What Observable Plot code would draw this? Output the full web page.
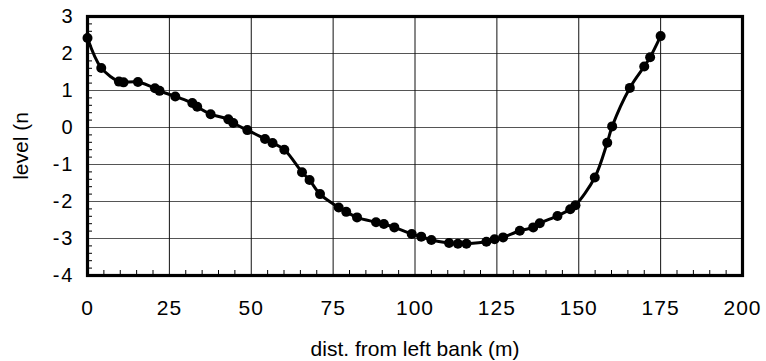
<!DOCTYPE html>
<html>
<head>
<meta charset="utf-8">
<script src="https://cdn.jsdelivr.net/npm/d3@7"></script>
<script src="https://cdn.jsdelivr.net/npm/@observablehq/plot@0.6"></script>
<style>
  html, body { margin: 0; padding: 0; background: #fff; }
  svg { display: block; }
</style>
</head>
<body>
<div id="chart"></div>
<script>
const dist = [0, 4.2, 9.6, 11, 15.4, 20.6, 22, 26.8, 32, 33.5, 37.6, 43, 44.5, 48.8, 54.2, 56.5, 60.1, 65.5, 67.8, 71.0, 76.7, 79.0, 82.3, 88.1, 90.5, 93.7, 99.0, 101.9, 105, 110.4, 113.1, 115.7, 121.8, 124.3, 126.9, 132, 136.1, 138.1, 143.5, 147.4, 149, 154.9, 158.7, 160.2, 165.6, 170, 171.8, 175];
const level = [2.42, 1.61, 1.24, 1.22, 1.23, 1.06, 0.99, 0.84, 0.66, 0.56, 0.36, 0.22, 0.12, -0.07, -0.31, -0.42, -0.60, -1.21, -1.42, -1.80, -2.16, -2.28, -2.43, -2.56, -2.61, -2.70, -2.88, -2.95, -3.04, -3.12, -3.14, -3.14, -3.09, -3.02, -2.97, -2.79, -2.70, -2.59, -2.39, -2.21, -2.10, -1.35, -0.41, 0.03, 1.07, 1.65, 1.90, 2.47];
const xTicks = [0, 25, 50, 75, 100, 125, 150, 175, 200];
const yTicks = [-4, -3, -2, -1, 0, 1, 2, 3];
const xMinor = d3.range(0, 201, 5).filter(v => v % 25 !== 0);
const yMinor = d3.range(-40, 31, 2).map(v => v / 10).filter(v => !Number.isInteger(v));
const xLabel = "dist. from left bank (m)";
const yLabel = "level (n";

const data = dist.map((d, i) => ({dist: d, level: level[i]}));

const W = 766, H = 361;
const mL = 87, mR = 24, mT = 16, mB = 86;
const fw = W - mL - mR, fh = H - mT - mB;

const chart = Plot.plot({
  width: W,
  height: H,
  marginLeft: mL,
  marginRight: mR,
  marginTop: mT,
  marginBottom: mB,
  style: {fontFamily: "'Liberation Sans', Arial, sans-serif", background: "#fff", color: "#000"},
  x: {domain: [0, 200]},
  y: {domain: [-4, 3]},
  marks: [
    Plot.ruleY(yTicks.filter(v => v > -4 && v < 3), {y: d => d, stroke: "#555", strokeWidth: 1.1}),
    Plot.ruleX(xTicks.filter(v => v > 0 && v < 200), {x: d => d, stroke: "#111", strokeWidth: 1}),
    Plot.ruleX(xMinor, {x: d => d, insetTop: fh - 5, stroke: "#000", strokeWidth: 1}),
    Plot.ruleY(yMinor, {y: d => d, insetRight: fw - 5, stroke: "#000", strokeWidth: 1}),
    Plot.axisX({ticks: xTicks, tickSize: 0, tickPadding: 25, fontSize: 21, label: null, tickFormat: d => String(d)}),
    Plot.axisY({ticks: yTicks, tickSize: 0, tickPadding: 13, fontSize: 20, label: null, tickFormat: d => String(d)}),
    Plot.frame({stroke: "#000", strokeWidth: 3.2}),
    Plot.line(data, {x: "dist", y: "level", stroke: "#000", strokeWidth: 3, curve: "catmull-rom"}),
    Plot.dot(data, {x: "dist", y: "level", r: 5, fill: "#000", stroke: "none"}),
    Plot.text([xLabel], {ariaLabel: "x-label", text: d => d, frameAnchor: "bottom", textAnchor: "middle", lineAnchor: "bottom", dy: 80, fontSize: 21, fill: "#000"}),
    Plot.text([yLabel], {ariaLabel: "y-label", text: d => d, frameAnchor: "left", textAnchor: "middle", dx: -66, rotate: -90, fontSize: 21, fill: "#000"})
  ]
});
const s = d3.select(chart);
s.selectAll('g[aria-label="x-label"] text').style("letter-spacing", "0.8px");
s.selectAll('g[aria-label="y-label"] text').style("letter-spacing", "1.7px");
s.selectAll('g[aria-label="x-axis tick label"] text').style("letter-spacing", "1px");
s.selectAll('g[aria-label="y-axis tick label"] text').style("letter-spacing", "2px");
document.getElementById("chart").appendChild(chart);
</script>
</body>
</html>
